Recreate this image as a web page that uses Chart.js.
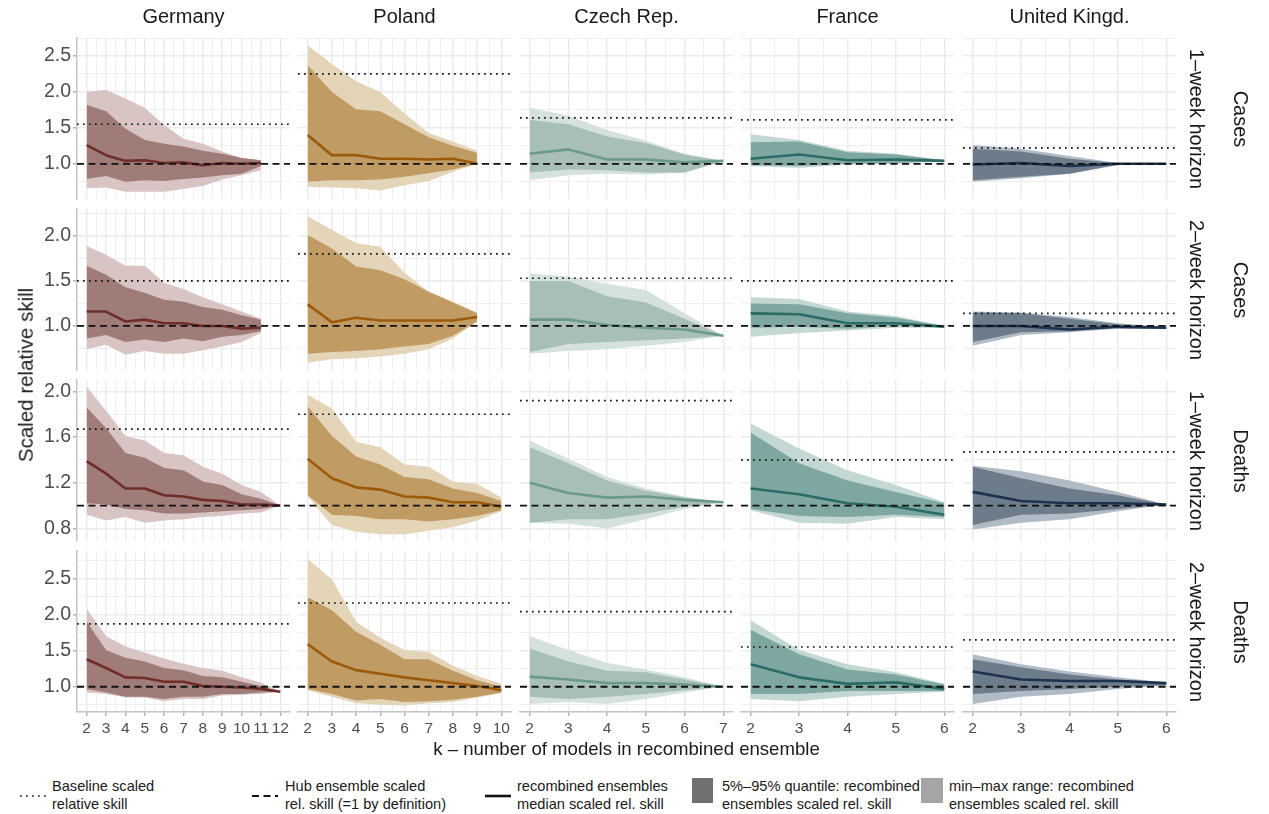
<!DOCTYPE html>
<html><head><meta charset="utf-8">
<script src="https://cdn.jsdelivr.net/npm/chart.js@4"></script>
<style>
body{margin:0;background:#fff;}
#wrap{position:relative;width:1269px;height:814px;overflow:hidden;font-family:"Liberation Sans",Arial,Helvetica,sans-serif;color:#1a1a1a;background:#fff;}
#wrap canvas{position:absolute;}
.t{position:absolute;white-space:nowrap;line-height:1;transform:translate(-50%,-50%);}
.r90{position:absolute;white-space:nowrap;line-height:1;transform:translate(-50%,-50%) rotate(90deg);}
.rm90{position:absolute;white-space:nowrap;line-height:1;transform:translate(-50%,-50%) rotate(-90deg);}
.lg{position:absolute;white-space:nowrap;font-size:14.6px;line-height:18px;color:#1a1a1a;}
</style></head><body><div id="wrap"></div>
<script>
// ---------- categories / labels ----------
const kAll = [2,3,4,5,6,7,8,9,10,11,12];
const countries = ["Germany","Poland","Czech Rep.","France","United Kingd."];
const targets = ["Cases","Cases","Deaths","Deaths"];
const horizons = ["1–week horizon","2–week horizon","1–week horizon","2–week horizon"];
const maxK = [12,10,7,6,6];
const yLimits = [[0.51,2.75],[0.51,2.30],[0.69,2.10],[0.65,2.88]];
const yMajorTicks = [[1.0,1.5,2.0,2.5],[1.0,1.5,2.0],[0.8,1.2,1.6,2.0],[1.0,1.5,2.0,2.5]];
const yMinorTicks = [[0.75,1.25,1.75,2.25,2.75],[0.75,1.25,1.75,2.25],[1.0,1.4,1.8],[0.75,1.25,1.75,2.25,2.75]];
const hubSkill = 1.0;

// ---------- baseline scaled relative skill (rows: C1, C2, D1, D2) ----------
const baseline_Germany = [1.55,1.50,1.67,1.87];
const baseline_Poland  = [2.25,1.80,1.80,2.16];
const baseline_Czech   = [1.64,1.53,1.92,2.04];
const baseline_France  = [1.61,1.50,1.40,1.55];
const baseline_UK      = [1.22,1.14,1.47,1.65];

// ---------- Germany ----------
const max_Germany = [
 [2.00,2.03,1.91,1.78,1.54,1.35,1.28,1.17,1.08,1.05],
 [1.89,1.79,1.67,1.67,1.48,1.41,1.32,1.24,1.16,1.08],
 [2.04,1.83,1.61,1.57,1.46,1.44,1.34,1.28,1.18,1.12,1.00],
 [2.08,1.70,1.56,1.47,1.39,1.32,1.26,1.22,1.13,1.06,0.93]];
const q95_Germany = [
 [1.82,1.73,1.49,1.33,1.28,1.24,1.18,1.14,1.08,1.05],
 [1.67,1.57,1.43,1.37,1.29,1.27,1.21,1.18,1.12,1.07],
 [1.86,1.68,1.46,1.42,1.33,1.31,1.21,1.18,1.10,1.06,1.00],
 [1.90,1.51,1.40,1.35,1.26,1.23,1.15,1.13,1.07,1.01,0.93]];
const median_Germany = [
 [1.26,1.12,1.04,1.05,1.01,1.02,0.98,1.01,1.00,1.01],
 [1.16,1.16,1.05,1.07,1.03,1.03,1.00,1.00,0.97,0.98],
 [1.39,1.28,1.15,1.15,1.09,1.08,1.05,1.04,1.01,1.01,1.00],
 [1.38,1.26,1.13,1.12,1.07,1.07,1.01,1.00,0.99,0.97,0.93]];
const q05_Germany = [
 [0.79,0.83,0.75,0.77,0.76,0.79,0.81,0.84,0.86,0.97],
 [0.86,0.90,0.82,0.85,0.82,0.86,0.83,0.88,0.90,0.94],
 [1.02,1.01,0.97,0.96,0.93,0.93,0.94,0.95,0.96,0.97,1.00],
 [0.97,0.92,0.86,0.86,0.83,0.86,0.86,0.90,0.90,0.92,0.93]];
const min_Germany = [
 [0.66,0.67,0.61,0.61,0.61,0.65,0.69,0.78,0.84,0.91],
 [0.74,0.79,0.68,0.72,0.69,0.69,0.73,0.77,0.82,0.92],
 [0.92,0.87,0.90,0.85,0.87,0.88,0.90,0.91,0.93,0.94,1.00],
 [0.92,0.90,0.85,0.85,0.80,0.83,0.83,0.88,0.89,0.90,0.93]];

// ---------- Poland ----------
const max_Poland = [
 [2.65,2.39,2.15,2.00,1.70,1.43,1.31,1.18],
 [2.22,2.07,1.92,1.88,1.59,1.38,1.27,1.15],
 [1.97,1.85,1.56,1.51,1.36,1.34,1.21,1.19,1.07],
 [2.77,2.49,1.90,1.68,1.51,1.48,1.29,1.15,1.04]];
const q95_Poland = [
 [2.37,2.00,1.76,1.73,1.55,1.37,1.25,1.15],
 [2.01,1.86,1.66,1.62,1.52,1.38,1.26,1.14],
 [1.87,1.61,1.43,1.36,1.25,1.23,1.15,1.11,1.04],
 [2.24,2.06,1.76,1.58,1.38,1.38,1.22,1.09,1.00]];
const median_Poland = [
 [1.40,1.12,1.12,1.07,1.07,1.06,1.07,1.00],
 [1.24,1.04,1.09,1.06,1.06,1.06,1.06,1.10],
 [1.41,1.24,1.16,1.14,1.08,1.07,1.03,1.03,0.99],
 [1.59,1.35,1.23,1.18,1.13,1.09,1.05,1.01,0.95]];
const q05_Poland = [
 [0.75,0.77,0.77,0.78,0.82,0.87,0.92,1.00],
 [0.69,0.71,0.72,0.74,0.77,0.80,0.89,1.05],
 [1.09,0.92,0.91,0.88,0.88,0.86,0.88,0.91,0.96],
 [0.97,0.90,0.81,0.83,0.79,0.80,0.82,0.86,0.92]];
const min_Poland = [
 [0.68,0.67,0.66,0.63,0.70,0.76,0.89,1.00],
 [0.59,0.63,0.64,0.66,0.69,0.74,0.86,1.05],
 [1.08,0.83,0.77,0.75,0.75,0.78,0.81,0.87,0.95],
 [0.95,0.86,0.77,0.75,0.74,0.77,0.79,0.85,0.91]];

// ---------- Czech Rep. ----------
const max_Czech = [
 [1.78,1.67,1.47,1.32,1.14,1.04],
 [1.58,1.55,1.47,1.40,1.14,0.89],
 [1.57,1.41,1.25,1.15,1.08,1.03],
 [1.70,1.51,1.33,1.24,1.13,1.00]];
const q95_Czech = [
 [1.61,1.55,1.38,1.29,1.13,1.04],
 [1.50,1.50,1.33,1.26,1.08,0.89],
 [1.51,1.37,1.22,1.13,1.07,1.03],
 [1.53,1.35,1.22,1.20,1.10,1.00]];
const median_Czech = [
 [1.14,1.20,1.06,1.06,1.02,1.04],
 [1.07,1.07,1.01,0.98,0.96,0.89],
 [1.20,1.11,1.07,1.08,1.05,1.03],
 [1.14,1.10,1.05,1.05,1.03,1.00]];
const q05_Czech = [
 [0.88,0.92,0.91,0.88,0.88,1.04],
 [0.71,0.80,0.82,0.84,0.86,0.89],
 [0.85,0.88,0.88,0.93,0.99,1.03],
 [0.86,0.83,0.86,0.90,0.95,1.00]];
const min_Czech = [
 [0.77,0.84,0.86,0.85,0.88,1.04],
 [0.69,0.72,0.74,0.78,0.82,0.89],
 [0.85,0.84,0.80,0.88,0.97,1.03],
 [0.76,0.79,0.76,0.83,0.92,1.00]];

// ---------- France ----------
const max_France = [
 [1.41,1.33,1.18,1.14,1.05],
 [1.32,1.30,1.16,1.11,1.00],
 [1.72,1.50,1.31,1.18,1.03],
 [1.92,1.51,1.31,1.20,1.04]];
const q95_France = [
 [1.30,1.31,1.16,1.13,1.05],
 [1.25,1.24,1.14,1.09,1.00],
 [1.64,1.37,1.22,1.12,1.02],
 [1.79,1.45,1.24,1.17,1.03]];
const median_France = [
 [1.07,1.13,1.05,1.06,1.04],
 [1.14,1.13,1.03,1.03,0.99],
 [1.15,1.10,1.02,0.99,0.92],
 [1.31,1.13,1.04,1.06,0.97]];
const q05_France = [
 [0.98,0.97,1.00,1.01,1.04],
 [0.98,0.99,0.97,1.00,0.99],
 [0.97,0.91,0.90,0.92,0.90],
 [0.90,0.90,0.94,0.94,0.94]];
const min_France = [
 [0.97,0.94,0.99,1.00,1.04],
 [0.88,0.92,0.95,0.98,0.98],
 [0.96,0.85,0.84,0.90,0.88],
 [0.83,0.80,0.86,0.90,0.93]];

// ---------- United Kingdom ----------
const max_UK = [
 [1.26,1.21,1.11,1.01,1.00],
 [1.16,1.15,1.10,1.03,0.99],
 [1.35,1.30,1.22,1.12,1.01],
 [1.45,1.31,1.21,1.13,1.06]];
const q95_UK = [
 [1.21,1.17,1.07,1.01,1.00],
 [1.15,1.14,1.08,1.02,0.98],
 [1.34,1.24,1.15,1.09,1.01],
 [1.38,1.27,1.17,1.10,1.06]];
const median_UK = [
 [0.99,1.01,0.97,1.00,1.00],
 [1.00,1.00,0.96,0.99,0.98],
 [1.12,1.04,1.02,1.02,1.01],
 [1.21,1.10,1.08,1.08,1.05]];
const q05_UK = [
 [0.77,0.82,0.86,0.99,1.00],
 [0.82,0.93,0.94,0.98,0.98],
 [0.83,0.92,0.93,0.97,1.01],
 [0.90,0.94,0.97,1.00,1.02]];
const min_UK = [
 [0.75,0.80,0.86,0.98,1.00],
 [0.78,0.90,0.93,0.97,0.97],
 [0.79,0.85,0.88,0.95,1.01],
 [0.76,0.86,0.90,0.97,1.02]];

// ---------- tables built from the arrays above ----------
const seriesTable = [
  {max:max_Germany,q95:q95_Germany,med:median_Germany,q05:q05_Germany,min:min_Germany,base:baseline_Germany},
  {max:max_Poland,q95:q95_Poland,med:median_Poland,q05:q05_Poland,min:min_Poland,base:baseline_Poland},
  {max:max_Czech,q95:q95_Czech,med:median_Czech,q05:q05_Czech,min:min_Czech,base:baseline_Czech},
  {max:max_France,q95:q95_France,med:median_France,q05:q05_France,min:min_France,base:baseline_France},
  {max:max_UK,q95:q95_UK,med:median_UK,q05:q05_UK,min:min_UK,base:baseline_UK}
];

// ---------- styles ----------
const lineCol = ['#6e2d29','#9b5a0a','#6b998b','#2a6b65','#1c324e'];
const qCol    = ['#a07c78','#c19b64','#a7bfb7','#7fa7a1','#6c7c8b'];
const mmCol   = ['#d7c4c3','#e4d4b8','#d5e1dd','#c3d7d3','#b0bbc5'];
const FONT = '"Liberation Sans", Arial, Helvetica, sans-serif';
const colLeft = [77,298,520,741,963], PW = 213;
const rowTop = [38,209,380,551], PH = 161;
const PAD = 14, YW = 60, XH = 34;

const refLines = {
  id:'refLines',
  afterDatasetsDraw(chart, args, opts){
    const {ctx, chartArea:a} = chart; const y = chart.scales.y;
    ctx.save(); ctx.beginPath(); ctx.rect(a.left,a.top,a.right-a.left,a.bottom-a.top); ctx.clip();
    const draw = (val, dash, w) => {
      const py = y.getPixelForValue(val);
      ctx.beginPath(); ctx.setLineDash(dash); ctx.lineWidth = w; ctx.strokeStyle = '#111';
      ctx.moveTo(a.left, py); ctx.lineTo(a.right, py); ctx.stroke();
    };
    draw(opts.baseline, [1.7,4.3], 1.7);
    draw(opts.hub, [7,4.5], 1.8);
    ctx.restore();
  }
};
Chart.register(refLines);

const near = (v, arr) => arr.some(m => Math.abs(m - v) < 1e-6);
const wrap = document.getElementById('wrap');

for (let r = 0; r < 4; r++) {
  for (let c = 0; c < 5; c++) {
    const isLeft = c === 0, isBottom = r === 3;
    const S = seriesTable[c];
    const pts = arr => arr[r].map((v,i) => ({x:kAll[i], y:v}));
    const W = PW + 2*PAD + (isLeft ? YW : 0);
    const H = PH + 2*PAD + (isBottom ? XH : 0);
    const cv = document.createElement('canvas');
    cv.width = W; cv.height = H;
    cv.style.width = W + 'px'; cv.style.height = H + 'px';
    cv.style.left = (colLeft[c] - PAD - (isLeft ? YW : 0)) + 'px';
    cv.style.top = (rowTop[r] - PAD) + 'px';
    wrap.appendChild(cv);
    const kmax = maxK[c];
    const xExp = 0.05 * (kmax - 2);
    const yMaj = yMajorTicks[r], yMin = yMinorTicks[r];
    new Chart(cv, {
      type: 'line',
      data: { datasets: [
        {data: pts(S.med), borderColor: lineCol[c], borderWidth: 2.6, pointRadius: 0, fill: false, tension: 0, borderJoinStyle: 'round', order: 0},
        {data: pts(S.q95), borderWidth: 0, pointRadius: 0, fill: '+1', backgroundColor: qCol[c], tension: 0, order: 1},
        {data: pts(S.q05), borderWidth: 0, pointRadius: 0, fill: false, tension: 0, order: 1},
        {data: pts(S.max), borderWidth: 0, pointRadius: 0, fill: '+1', backgroundColor: mmCol[c], tension: 0, order: 2},
        {data: pts(S.min), borderWidth: 0, pointRadius: 0, fill: false, tension: 0, order: 2}
      ]},
      options: {
        responsive: false, animation: false, devicePixelRatio: 1,
        layout: { padding: {left: PAD, right: PAD, top: PAD, bottom: PAD} },
        plugins: { legend: {display: false}, tooltip: {enabled: false},
                   refLines: { baseline: S.base[r], hub: hubSkill } },
        scales: {
          x: {
            type: 'linear', min: 2 - xExp, max: kmax + xExp,
            afterBuildTicks: s => { const t = []; for (let v = 2; v <= kmax + 1e-9; v += 0.5) t.push({value: v}); s.ticks = t; },
            afterFit: s => { s.height = isBottom ? XH : 0; },
            ticks: { display: isBottom, autoSkip: false, maxRotation: 0, minRotation: 0, padding: 3,
                     callback: v => Number.isInteger(v) ? String(v) : '',
                     font: {family: FONT, size: 15.5}, color: '#4d4d4d' },
            grid: { color: '#ebebeb', lineWidth: ctx => (ctx.tick && Number.isInteger(ctx.tick.value)) ? 1.5 : 0.8,
                    drawTicks: isBottom, tickLength: 4,
                    tickColor: ctx => (ctx.tick && Number.isInteger(ctx.tick.value)) ? '#b3b3b3' : 'rgba(0,0,0,0)' },
            border: { display: isBottom, color: '#c4c4c4', width: 1.5 }
          },
          y: {
            type: 'linear', min: yLimits[r][0], max: yLimits[r][1],
            afterBuildTicks: s => { s.ticks = yMaj.concat(yMin).sort((a,b)=>a-b).map(v => ({value: v})); },
            afterFit: s => { s.width = isLeft ? YW : 0; },
            ticks: { display: isLeft, autoSkip: false, padding: 2,
                     callback: v => near(v, yMaj) ? v.toFixed(1) : '',
                     font: {family: FONT, size: 19.5}, color: '#4d4d4d' },
            grid: { color: '#ebebeb', lineWidth: ctx => (ctx.tick && near(ctx.tick.value, yMaj)) ? 1.5 : 0.8,
                    drawTicks: isLeft, tickLength: 4,
                    tickColor: ctx => (ctx.tick && near(ctx.tick.value, yMaj)) ? '#b3b3b3' : 'rgba(0,0,0,0)' },
            border: { display: isLeft, color: '#c4c4c4', width: 1.5 }
          }
        }
      }
    });
  }
}

// ---------- text ----------
function addText(cls, txt, x, y, size, extra) {
  const d = document.createElement('div');
  d.className = cls; d.textContent = txt;
  d.style.left = x + 'px'; d.style.top = y + 'px'; d.style.fontSize = size + 'px';
  if (extra) Object.assign(d.style, extra);
  wrap.appendChild(d);
}
countries.forEach((n, c) => addText('t', n, colLeft[c] + PW/2, 16, 20));
for (let r = 0; r < 4; r++) {
  const cy = rowTop[r] + PH/2;
  addText('r90', horizons[r], 1197, cy, 20);
  addText('r90', targets[r], 1241, cy, 20);
}
addText('rm90', 'Scaled relative skill', 26, (rowTop[0] + rowTop[3] + PH)/2, 20.5);
addText('t', 'k – number of models in recombined ensemble', (colLeft[0] + colLeft[4] + PW)/2, 749, 18.6);

// ---------- legend ----------
const legendItems = [
  ['Baseline scaled', 'relative skill', 52],
  ['Hub ensemble scaled', 'rel. skill (=1 by definition)', 285],
  ['recombined ensembles', 'median scaled rel. skill', 517],
  ['5%–95% quantile: recombined', 'ensembles scaled rel. skill', 722],
  ['min–max range: recombined', 'ensembles scaled rel. skill', 949]
];
legendItems.forEach(([a, b, x]) => {
  const d = document.createElement('div');
  d.className = 'lg'; d.style.left = x + 'px'; d.style.top = '777px';
  d.appendChild(document.createTextNode(a)); d.appendChild(document.createElement('br'));
  d.appendChild(document.createTextNode(b));
  wrap.appendChild(d);
});
const svgNS = 'http://www.w3.org/2000/svg';
const svg = document.createElementNS(svgNS, 'svg');
svg.setAttribute('width', '1269'); svg.setAttribute('height', '814');
svg.style.position = 'absolute'; svg.style.left = '0'; svg.style.top = '0';
const mk = (tag, attrs) => { const e = document.createElementNS(svgNS, tag); for (const k in attrs) e.setAttribute(k, attrs[k]); svg.appendChild(e); };
mk('line', {x1: 20, y1: 796, x2: 46, y2: 796, stroke: '#111', 'stroke-width': 1.7, 'stroke-dasharray': '1.7 4.3'});
mk('line', {x1: 252, y1: 796, x2: 278, y2: 796, stroke: '#111', 'stroke-width': 1.8, 'stroke-dasharray': '7 4.5'});
mk('line', {x1: 485, y1: 796, x2: 511, y2: 796, stroke: '#111', 'stroke-width': 2.6});
mk('rect', {x: 692, y: 778, width: 21, height: 25, fill: '#707070'});
mk('rect', {x: 921, y: 778, width: 22, height: 25, fill: '#a5a5a5'});
wrap.appendChild(svg);
</script></body></html>
